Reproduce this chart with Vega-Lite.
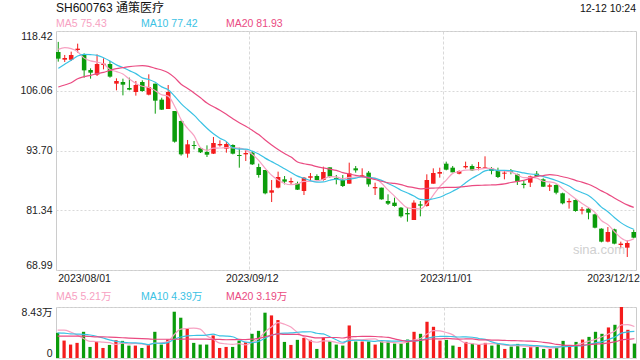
{
  "$schema": "https://vega.github.io/schema/vega-lite/v6.json",
  "padding": 0,
  "background": "white",
  "spacing": 0,
  "config": {
    "font": "Liberation Sans",
    "view": {"stroke": null},
    "axis": {"labelFont": "Liberation Sans, Noto Sans CJK SC", "labelFontSize": 10.5, "labelColor": "#222222", "ticks": false, "domain": false, "title": null, "gridColor": "#d9d9d9", "gridDash": [2, 2]},
    "text": {"font": "Liberation Sans, Noto Sans CJK SC"}
  },
  "resolve": {"scale": {"x": "independent", "y": "independent", "color": "independent"}},
  "datasets": {
    "k": [
      {"d":"2023/08/01","o":114.08,"h":116.17,"l":112.08,"c":112.70,"v":4.16,"m5":114.63,"m10":110.70,"m20":106.84,"vm5":4.60,"vm10":4.15,"vm20":3.60},
      {"d":"2023/08/02","o":112.49,"h":113.46,"l":112.01,"c":112.84,"v":2.88,"m5":114.97,"m10":111.53,"m20":107.25,"vm5":4.60,"vm10":4.10,"vm20":3.60},
      {"d":"2023/08/03","o":112.49,"h":114.15,"l":112.22,"c":113.46,"v":2.22,"m5":114.77,"m10":112.35,"m20":107.73,"vm5":4.30,"vm10":4.00,"vm20":3.60},
      {"d":"2023/08/04","o":114.49,"h":115.80,"l":113.94,"c":114.77,"v":2.50,"m5":114.15,"m10":113.25,"m20":108.56,"vm5":3.80,"vm10":3.95,"vm20":3.60},
      {"d":"2023/08/07","o":113.59,"h":113.80,"l":108.77,"c":110.28,"v":4.33,"m5":112.81,"m10":113.59,"m20":108.98,"vm5":3.22,"vm10":3.90,"vm20":3.60},
      {"d":"2023/08/08","o":110.35,"h":110.70,"l":108.56,"c":109.80,"v":1.83,"m5":112.23,"m10":113.53,"m20":109.25,"vm5":2.75,"vm10":3.80,"vm20":3.55},
      {"d":"2023/08/09","o":109.39,"h":113.59,"l":109.11,"c":111.60,"v":2.72,"m5":111.98,"m10":113.39,"m20":109.60,"vm5":2.72,"vm10":3.60,"vm20":3.50},
      {"d":"2023/08/10","o":111.39,"h":112.77,"l":110.49,"c":111.66,"v":1.66,"m5":111.62,"m10":112.90,"m20":109.87,"vm5":2.61,"vm10":3.30,"vm20":3.50},
      {"d":"2023/08/11","o":111.60,"h":112.22,"l":108.77,"c":108.98,"v":2.16,"m5":110.46,"m10":112.22,"m20":110.28,"vm5":2.54,"vm10":3.00,"vm20":3.45},
      {"d":"2023/08/14","o":107.53,"h":108.63,"l":106.15,"c":108.08,"v":2.94,"m5":110.02,"m10":111.42,"m20":110.63,"vm5":2.26,"vm10":2.74,"vm20":3.40},
      {"d":"2023/08/15","o":107.87,"h":108.56,"l":105.11,"c":107.32,"v":2.83,"m5":109.53,"m10":110.88,"m20":110.84,"vm5":2.46,"vm10":2.61,"vm20":3.35},
      {"d":"2023/08/16","o":106.63,"h":108.77,"l":106.15,"c":106.29,"v":2.05,"m5":108.47,"m10":110.22,"m20":111.04,"vm5":2.33,"vm10":2.52,"vm20":3.30},
      {"d":"2023/08/17","o":105.80,"h":108.08,"l":105.05,"c":107.25,"v":2.05,"m5":107.58,"m10":109.60,"m20":111.18,"vm5":2.41,"vm10":2.51,"vm20":3.25},
      {"d":"2023/08/18","o":107.87,"h":108.22,"l":105.87,"c":106.01,"v":1.66,"m5":106.99,"m10":108.73,"m20":111.25,"vm5":2.31,"vm10":2.42,"vm20":3.20},
      {"d":"2023/08/21","o":105.25,"h":109.46,"l":105.11,"c":106.84,"v":2.22,"m5":106.74,"m10":108.38,"m20":111.11,"vm5":2.16,"vm10":2.21,"vm20":3.15},
      {"d":"2023/08/22","o":107.53,"h":107.53,"l":101.32,"c":104.01,"v":4.33,"m5":106.08,"m10":107.80,"m20":110.70,"vm5":2.46,"vm10":2.46,"vm20":3.10},
      {"d":"2023/08/23","o":104.22,"h":104.63,"l":102.08,"c":102.15,"v":2.22,"m5":105.25,"m10":106.86,"m20":110.35,"vm5":2.50,"vm10":2.41,"vm20":3.10},
      {"d":"2023/08/24","o":102.29,"h":107.25,"l":102.29,"c":105.80,"v":3.05,"m5":104.96,"m10":106.27,"m20":109.80,"vm5":2.70,"vm10":2.55,"vm20":3.10},
      {"d":"2023/08/25","o":101.87,"h":101.87,"l":95.33,"c":95.53,"v":7.65,"m5":102.87,"m10":104.93,"m20":108.77,"vm5":3.89,"vm10":3.10,"vm20":3.10},
      {"d":"2023/08/28","o":99.81,"h":99.94,"l":92.64,"c":92.91,"v":6.66,"m5":100.08,"m10":103.41,"m20":107.41,"vm5":4.78,"vm10":3.47,"vm20":3.11},
      {"d":"2023/08/29","o":93.05,"h":95.88,"l":92.22,"c":94.98,"v":4.83,"m5":98.27,"m10":102.18,"m20":106.53,"vm5":4.88,"vm10":3.67,"vm20":3.14},
      {"d":"2023/08/30","o":94.84,"h":95.67,"l":93.95,"c":94.64,"v":2.50,"m5":96.77,"m10":101.01,"m20":105.62,"vm5":4.94,"vm10":3.72,"vm20":3.12},
      {"d":"2023/08/31","o":94.22,"h":94.43,"l":93.19,"c":93.33,"v":2.22,"m5":94.28,"m10":99.62,"m20":104.61,"vm5":4.77,"vm10":3.73,"vm20":3.12},
      {"d":"2023/09/01","o":93.39,"h":94.77,"l":92.36,"c":92.84,"v":2.22,"m5":93.74,"m10":98.30,"m20":103.52,"vm5":3.69,"vm10":3.79,"vm20":3.11},
      {"d":"2023/09/04","o":93.05,"h":96.50,"l":92.98,"c":95.26,"v":3.72,"m5":94.21,"m10":97.15,"m20":102.76,"vm5":3.10,"vm10":3.94,"vm20":3.08},
      {"d":"2023/09/05","o":94.77,"h":95.81,"l":94.50,"c":95.05,"v":1.66,"m5":94.22,"m10":96.25,"m20":102.03,"vm5":2.46,"vm10":3.67,"vm20":3.07},
      {"d":"2023/09/06","o":94.08,"h":95.53,"l":93.26,"c":95.05,"v":1.83,"m5":94.31,"m10":95.54,"m20":101.20,"vm5":2.33,"vm10":3.63,"vm20":3.02},
      {"d":"2023/09/07","o":94.84,"h":94.98,"l":92.91,"c":93.05,"v":1.83,"m5":94.25,"m10":94.26,"m20":100.27,"vm5":2.25,"vm10":3.51,"vm20":3.03},
      {"d":"2023/09/08","o":92.78,"h":94.29,"l":90.15,"c":92.57,"v":2.88,"m5":94.20,"m10":93.97,"m20":99.45,"vm5":2.38,"vm10":3.04,"vm20":3.07},
      {"d":"2023/09/11","o":92.91,"h":93.95,"l":91.53,"c":93.19,"v":2.61,"m5":93.78,"m10":94.00,"m20":98.70,"vm5":2.16,"vm10":2.63,"vm20":3.05},
      {"d":"2023/09/12","o":93.26,"h":93.60,"l":90.71,"c":90.84,"v":4.00,"m5":92.94,"m10":93.58,"m20":97.88,"vm5":2.63,"vm10":2.55,"vm20":3.11},
      {"d":"2023/09/13","o":90.29,"h":90.98,"l":88.09,"c":88.64,"v":4.49,"m5":91.66,"m10":92.98,"m20":97.00,"vm5":3.16,"vm10":2.75,"vm20":3.23},
      {"d":"2023/09/14","o":89.67,"h":89.67,"l":84.64,"c":84.85,"v":7.49,"m5":90.02,"m10":92.13,"m20":95.88,"vm5":4.29,"vm10":3.27,"vm20":3.50},
      {"d":"2023/09/15","o":84.98,"h":87.60,"l":83.05,"c":85.47,"v":7.04,"m5":88.60,"m10":91.40,"m20":94.85,"vm5":5.13,"vm10":3.76,"vm20":3.77},
      {"d":"2023/09/18","o":86.02,"h":89.33,"l":85.88,"c":88.22,"v":6.27,"m5":87.60,"m10":90.69,"m20":93.92,"vm5":5.86,"vm10":4.01,"vm20":3.98},
      {"d":"2023/09/19","o":87.74,"h":88.43,"l":86.70,"c":87.26,"v":2.66,"m5":86.89,"m10":89.91,"m20":93.08,"vm5":5.59,"vm10":4.11,"vm20":3.89},
      {"d":"2023/09/20","o":87.12,"h":88.09,"l":86.70,"c":87.40,"v":2.16,"m5":86.64,"m10":89.15,"m20":92.34,"vm5":5.12,"vm10":4.14,"vm20":3.89},
      {"d":"2023/09/21","o":86.91,"h":87.26,"l":85.54,"c":85.60,"v":3.00,"m5":86.79,"m10":88.40,"m20":91.33,"vm5":4.23,"vm10":4.26,"vm20":3.89},
      {"d":"2023/09/22","o":85.33,"h":88.22,"l":84.50,"c":88.09,"v":3.33,"m5":87.31,"m10":87.96,"m20":90.96,"vm5":3.48,"vm10":4.31,"vm20":3.67},
      {"d":"2023/09/25","o":88.09,"h":89.05,"l":87.60,"c":88.36,"v":3.00,"m5":87.34,"m10":87.47,"m20":90.73,"vm5":2.83,"vm10":4.34,"vm20":3.49},
      {"d":"2023/09/26","o":88.43,"h":88.78,"l":87.53,"c":87.60,"v":1.50,"m5":87.41,"m10":87.15,"m20":90.37,"vm5":2.60,"vm10":4.09,"vm20":3.32},
      {"d":"2023/09/27","o":87.60,"h":90.36,"l":87.47,"c":89.26,"v":3.33,"m5":87.78,"m10":87.21,"m20":90.10,"vm5":2.83,"vm10":3.98,"vm20":3.36},
      {"d":"2023/09/28","o":90.22,"h":90.22,"l":88.09,"c":88.29,"v":2.77,"m5":88.32,"m10":87.56,"m20":89.84,"vm5":2.79,"vm10":3.51,"vm20":3.39},
      {"d":"2023/10/09","o":88.02,"h":88.64,"l":86.70,"c":87.74,"v":2.22,"m5":88.25,"m10":87.78,"m20":89.59,"vm5":2.56,"vm10":3.02,"vm20":3.39},
      {"d":"2023/10/10","o":87.60,"h":88.64,"l":86.15,"c":86.36,"v":2.05,"m5":87.85,"m10":87.60,"m20":89.14,"vm5":2.37,"vm10":2.60,"vm20":3.31},
      {"d":"2023/10/11","o":86.84,"h":91.19,"l":86.84,"c":88.98,"v":5.38,"m5":88.13,"m10":87.77,"m20":88.84,"vm5":3.15,"vm10":2.87,"vm20":3.49},
      {"d":"2023/10/12","o":90.02,"h":90.50,"l":89.12,"c":89.60,"v":2.72,"m5":88.19,"m10":87.99,"m20":88.57,"vm5":3.03,"vm10":2.93,"vm20":3.54},
      {"d":"2023/10/13","o":88.29,"h":90.02,"l":88.09,"c":88.57,"v":2.72,"m5":88.25,"m10":88.29,"m20":88.34,"vm5":3.02,"vm10":2.90,"vm20":3.58},
      {"d":"2023/10/16","o":89.12,"h":89.46,"l":86.22,"c":86.70,"v":2.72,"m5":88.04,"m10":88.15,"m20":88.05,"vm5":3.12,"vm10":2.84,"vm20":3.57},
      {"d":"2023/10/17","o":85.88,"h":87.05,"l":84.50,"c":86.15,"v":2.22,"m5":88.00,"m10":87.93,"m20":87.70,"vm5":3.15,"vm10":2.76,"vm20":3.55},
      {"d":"2023/10/18","o":86.02,"h":86.02,"l":83.54,"c":83.60,"v":2.72,"m5":86.92,"m10":87.53,"m20":87.34,"vm5":2.62,"vm10":2.89,"vm20":3.49},
      {"d":"2023/10/19","o":83.26,"h":84.64,"l":82.43,"c":82.71,"v":2.72,"m5":85.55,"m10":86.87,"m20":87.04,"vm5":2.62,"vm10":2.82,"vm20":3.40},
      {"d":"2023/10/20","o":82.92,"h":83.95,"l":82.09,"c":82.23,"v":2.38,"m5":84.28,"m10":86.26,"m20":86.91,"vm5":2.55,"vm10":2.79,"vm20":3.15},
      {"d":"2023/10/23","o":81.88,"h":82.02,"l":79.81,"c":80.09,"v":2.38,"m5":82.96,"m10":85.50,"m20":86.64,"vm5":2.48,"vm10":2.80,"vm20":2.91},
      {"d":"2023/10/24","o":80.78,"h":81.88,"l":78.99,"c":80.50,"v":3.05,"m5":81.83,"m10":84.91,"m20":86.25,"vm5":2.65,"vm10":2.90,"vm20":2.75},
      {"d":"2023/10/25","o":79.33,"h":83.40,"l":79.33,"c":82.92,"v":4.33,"m5":81.69,"m10":84.31,"m20":86.04,"vm5":2.97,"vm10":2.80,"vm20":2.84},
      {"d":"2023/10/26","o":82.57,"h":83.26,"l":80.09,"c":82.30,"v":4.00,"m5":81.61,"m10":83.58,"m20":85.78,"vm5":3.23,"vm10":2.92,"vm20":2.93},
      {"d":"2023/10/27","o":82.23,"h":88.78,"l":82.09,"c":87.60,"v":5.99,"m5":82.68,"m10":83.48,"m20":85.88,"vm5":3.95,"vm10":3.25,"vm20":3.08},
      {"d":"2023/10/30","o":86.84,"h":90.02,"l":86.84,"c":89.05,"v":5.16,"m5":84.47,"m10":83.72,"m20":85.93,"vm5":4.51,"vm10":3.50,"vm20":3.17},
      {"d":"2023/10/31","o":88.91,"h":90.15,"l":88.09,"c":89.26,"v":2.88,"m5":86.23,"m10":84.03,"m20":85.98,"vm5":4.47,"vm10":3.56,"vm20":3.16},
      {"d":"2023/11/01","o":90.98,"h":91.40,"l":89.60,"c":89.74,"v":3.00,"m5":87.59,"m10":84.64,"m20":86.08,"vm5":4.21,"vm10":3.59,"vm20":3.24},
      {"d":"2023/11/02","o":90.15,"h":90.50,"l":89.19,"c":89.19,"v":2.05,"m5":88.97,"m10":85.29,"m20":86.08,"vm5":3.82,"vm10":3.52,"vm20":3.17},
      {"d":"2023/11/03","o":88.91,"h":89.60,"l":88.78,"c":89.46,"v":1.83,"m5":89.34,"m10":86.01,"m20":86.14,"vm5":2.98,"vm10":3.47,"vm20":3.13},
      {"d":"2023/11/06","o":90.22,"h":91.40,"l":89.95,"c":90.50,"v":2.66,"m5":89.63,"m10":87.05,"m20":86.28,"vm5":2.48,"vm10":3.50,"vm20":3.15},
      {"d":"2023/11/07","o":90.50,"h":90.84,"l":89.46,"c":89.60,"v":2.38,"m5":89.70,"m10":87.96,"m20":86.44,"vm5":2.38,"vm10":3.43,"vm20":3.16},
      {"d":"2023/11/08","o":90.08,"h":91.33,"l":89.60,"c":90.29,"v":2.22,"m5":89.81,"m10":88.70,"m20":86.50,"vm5":2.23,"vm10":3.22,"vm20":3.01},
      {"d":"2023/11/09","o":90.02,"h":92.50,"l":90.02,"c":90.22,"v":2.50,"m5":90.01,"m10":89.49,"m20":86.53,"vm5":2.32,"vm10":3.07,"vm20":3.00},
      {"d":"2023/11/10","o":90.02,"h":90.29,"l":88.78,"c":89.46,"v":2.05,"m5":90.01,"m10":89.68,"m20":86.58,"vm5":2.36,"vm10":2.67,"vm20":2.96},
      {"d":"2023/11/13","o":89.46,"h":90.15,"l":88.02,"c":88.22,"v":2.38,"m5":89.56,"m10":89.59,"m20":86.65,"vm5":2.31,"vm10":2.40,"vm20":2.95},
      {"d":"2023/11/14","o":88.91,"h":89.46,"l":87.74,"c":89.12,"v":1.50,"m5":89.46,"m10":89.58,"m20":86.80,"vm5":2.13,"vm10":2.26,"vm20":2.91},
      {"d":"2023/11/15","o":89.60,"h":89.88,"l":88.78,"c":89.33,"v":1.89,"m5":89.27,"m10":89.54,"m20":87.09,"vm5":2.06,"vm10":2.15,"vm20":2.87},
      {"d":"2023/11/16","o":88.78,"h":88.91,"l":86.57,"c":87.26,"v":2.33,"m5":88.68,"m10":89.35,"m20":87.32,"vm5":2.03,"vm10":2.17,"vm20":2.85},
      {"d":"2023/11/17","o":86.84,"h":87.40,"l":85.88,"c":86.57,"v":1.66,"m5":88.10,"m10":89.06,"m20":87.53,"vm5":1.95,"vm10":2.16,"vm20":2.81},
      {"d":"2023/11/20","o":87.05,"h":88.50,"l":86.15,"c":88.36,"v":1.89,"m5":88.13,"m10":88.84,"m20":87.95,"vm5":1.85,"vm10":2.08,"vm20":2.79},
      {"d":"2023/11/21","o":88.91,"h":89.46,"l":88.29,"c":88.36,"v":1.83,"m5":87.98,"m10":88.72,"m20":88.34,"vm5":1.92,"vm10":2.03,"vm20":2.73},
      {"d":"2023/11/22","o":87.74,"h":87.95,"l":86.15,"c":86.22,"v":1.50,"m5":87.35,"m10":88.31,"m20":88.51,"vm5":1.84,"vm10":1.95,"vm20":2.59},
      {"d":"2023/11/23","o":86.22,"h":86.84,"l":85.33,"c":86.50,"v":1.50,"m5":87.20,"m10":87.94,"m20":88.72,"vm5":1.68,"vm10":1.85,"vm20":2.46},
      {"d":"2023/11/24","o":86.57,"h":86.70,"l":84.64,"c":84.98,"v":1.83,"m5":86.88,"m10":87.49,"m20":88.58,"vm5":1.71,"vm10":1.83,"vm20":2.25},
      {"d":"2023/11/27","o":84.85,"h":84.98,"l":82.57,"c":82.78,"v":2.83,"m5":85.77,"m10":86.95,"m20":88.27,"vm5":1.90,"vm10":1.88,"vm20":2.14},
      {"d":"2023/11/28","o":82.98,"h":83.81,"l":81.68,"c":83.26,"v":1.89,"m5":84.75,"m10":86.36,"m20":87.97,"vm5":1.91,"vm10":1.92,"vm20":2.09},
      {"d":"2023/11/29","o":83.47,"h":83.60,"l":81.05,"c":81.19,"v":2.66,"m5":83.74,"m10":85.55,"m20":87.54,"vm5":2.14,"vm10":1.99,"vm20":2.07},
      {"d":"2023/11/30","o":81.26,"h":82.02,"l":80.50,"c":81.54,"v":3.05,"m5":82.75,"m10":84.98,"m20":87.16,"vm5":2.45,"vm10":2.06,"vm20":2.12},
      {"d":"2023/12/01","o":81.68,"h":81.88,"l":79.47,"c":80.85,"v":3.49,"m5":81.92,"m10":84.40,"m20":86.73,"vm5":2.78,"vm10":2.25,"vm20":2.20},
      {"d":"2023/12/04","o":80.50,"h":80.64,"l":77.61,"c":77.74,"v":4.33,"m5":80.92,"m10":83.34,"m20":86.09,"vm5":3.08,"vm10":2.49,"vm20":2.29},
      {"d":"2023/12/05","o":77.54,"h":77.61,"l":74.71,"c":74.85,"v":4.00,"m5":79.23,"m10":81.99,"m20":85.36,"vm5":3.51,"vm10":2.71,"vm20":2.37},
      {"d":"2023/12/06","o":74.85,"h":77.88,"l":74.71,"c":76.85,"v":5.05,"m5":78.37,"m10":81.05,"m20":84.68,"vm5":3.98,"vm10":3.06,"vm20":2.51},
      {"d":"2023/12/07","o":77.40,"h":77.54,"l":74.30,"c":74.44,"v":5.49,"m5":76.95,"m10":79.85,"m20":83.89,"vm5":4.47,"vm10":3.46,"vm20":2.66},
      {"d":"2023/12/08","o":74.16,"h":74.85,"l":73.47,"c":74.44,"v":8.43,"m5":75.66,"m10":78.79,"m20":83.14,"vm5":5.46,"vm10":4.12,"vm20":2.98},
      {"d":"2023/12/11","o":73.61,"h":75.13,"l":71.68,"c":74.57,"v":4.66,"m5":75.03,"m10":77.97,"m20":82.46,"vm5":5.53,"vm10":4.31,"vm20":3.09},
      {"d":"2023/12/12","o":76.85,"h":77.33,"l":75.54,"c":75.68,"v":2.38,"m5":75.43,"m10":77.42,"m20":81.93,"vm5":5.21,"vm10":4.39,"vm20":3.19}
    ]
  },
  "vconcat": [
    {
      "width": 580, "height": 15,
      "data": {"values": [{"slot": "L", "t": "SH600763 通策医疗"}, {"slot": "R", "t": "12-12 10:24"}]},
      "layer": [
        {
          "transform": [{"filter": "datum.slot == 'L'"}],
          "mark": {"type": "text", "align": "left", "baseline": "middle", "fontSize": 12, "color": "#111111"},
          "encoding": {
            "x": {"field": "slot", "type": "nominal", "bandPosition": 0, "scale": {"type": "band", "domain": ["L", "R"], "paddingInner": 0, "paddingOuter": 0}, "axis": null},
            "text": {"field": "t"}
          }
        },
        {
          "transform": [{"filter": "datum.slot == 'R'"}],
          "mark": {"type": "text", "align": "right", "baseline": "middle", "fontSize": 10.5, "color": "#111111", "dy": 1},
          "encoding": {
            "x": {"field": "slot", "type": "nominal", "bandPosition": 1, "scale": {"type": "band", "domain": ["L", "R"], "paddingInner": 0, "paddingOuter": 0}, "axis": null},
            "text": {"field": "t"}
          }
        }
      ]
    },
    {
      "width": 255, "height": 15,
      "data": {"values": [{"s": "MA5", "t": "MA5 75.43"}, {"s": "MA10", "t": "MA10 77.42"}, {"s": "MA20", "t": "MA20 81.93"}]},
      "mark": {"type": "text", "align": "left", "baseline": "middle", "fontSize": 10.5, "dy": 1.5},
      "encoding": {
        "x": {"field": "s", "type": "nominal", "bandPosition": 0, "scale": {"type": "band", "domain": ["MA5", "MA10", "MA20"], "paddingInner": 0, "paddingOuter": 0}, "axis": null},
        "text": {"field": "t"},
        "color": {"field": "s", "type": "nominal", "scale": {"domain": ["MA5", "MA10", "MA20"], "range": ["#f7a1c2", "#3bc2e4", "#ea4b82"]}, "legend": null}
      }
    },
    {
      "width": 580, "height": 239,
      "view": {"stroke": "#cccccc"},
      "data": {"name": "k"},
      "encoding": {
        "x": {
          "field": "d", "type": "ordinal",
          "scale": {"paddingInner": 0.3, "paddingOuter": 0},
          "axis": {
            "values": ["2023/08/01", "2023/09/12", "2023/11/01", "2023/12/12"],
            "bandPosition": 0, "labelAngle": 0, "labelFlush": 10, "labelPadding": 3,
            "labelOffset": {"condition": {"test": "datum.value == '2023/12/12'", "value": 6}, "value": 0},
            "grid": true, "gridDash": [3, 2],
            "gridOpacity": {"condition": {"test": "datum.value == '2023/12/12' || datum.value == '2023/08/01'", "value": 0}, "value": 1},
            "minExtent": 15, "maxExtent": 15
          }
        }
      },
      "layer": [
        {
          "mark": {"type": "rule", "strokeWidth": 1},
          "encoding": {
            "y": {"field": "l", "type": "quantitative", "scale": {"domain": [68.99, 118.42], "nice": false, "zero": false},
              "axis": {"values": [68.99, 81.34, 93.70, 106.06, 118.42], "format": ".2f", "labelFlush": true, "labelPadding": 4, "grid": true, "gridDash": [2, 2], "minExtent": 55, "maxExtent": 55}},
            "y2": {"field": "h"},
            "color": {"condition": {"test": "datum.c >= datum.o", "value": "#f41c1c"}, "value": "#0b9c0b"}
          }
        },
        {
          "mark": {"type": "bar"},
          "encoding": {
            "y": {"field": "o", "type": "quantitative"},
            "y2": {"field": "c"},
            "color": {"condition": {"test": "datum.c >= datum.o", "value": "#f41c1c"}, "value": "#0b9c0b"}
          }
        },
        {"mark": {"type": "line", "color": "#f7a1c2", "strokeWidth": 1.2, "interpolate": "monotone"}, "encoding": {"y": {"field": "m5", "type": "quantitative"}}},
        {"mark": {"type": "line", "color": "#3bc2e4", "strokeWidth": 1.2, "interpolate": "monotone"}, "encoding": {"y": {"field": "m10", "type": "quantitative"}}},
        {"mark": {"type": "line", "color": "#ea4b82", "strokeWidth": 1.2, "interpolate": "monotone"}, "encoding": {"y": {"field": "m20", "type": "quantitative"}}},
        {
          "data": {"values": [{"d": "2023/12/11", "p": 73.1, "t": "sina.com"}]},
          "mark": {"type": "text", "align": "right", "baseline": "middle", "fontSize": 13, "color": "#d0d0d0"},
          "encoding": {
            "x": {"field": "d", "type": "ordinal", "bandPosition": 0},
            "y": {"field": "p", "type": "quantitative"},
            "text": {"field": "t"}
          }
        }
      ]
    },
    {
      "width": 255, "height": 20,
      "data": {"values": [{"s": "MA5", "t": "MA5 5.21万"}, {"s": "MA10", "t": "MA10 4.39万"}, {"s": "MA20", "t": "MA20 3.19万"}]},
      "mark": {"type": "text", "align": "left", "baseline": "middle", "fontSize": 10.5, "dy": 1},
      "encoding": {
        "x": {"field": "s", "type": "nominal", "bandPosition": 0, "scale": {"type": "band", "domain": ["MA5", "MA10", "MA20"], "paddingInner": 0, "paddingOuter": 0}, "axis": null},
        "text": {"field": "t"},
        "color": {"field": "s", "type": "nominal", "scale": {"domain": ["MA5", "MA10", "MA20"], "range": ["#f7a1c2", "#3bc2e4", "#ea4b82"]}, "legend": null}
      }
    },
    {
      "width": 580, "height": 51,
      "view": {"stroke": "#cccccc"},
      "data": {"name": "k"},
      "encoding": {
        "x": {
          "field": "d", "type": "ordinal",
          "scale": {"paddingInner": 0.5, "paddingOuter": 0},
          "axis": {"values": ["2023/09/12", "2023/11/01"], "bandPosition": 0, "labels": false, "grid": true, "gridDash": [3, 2], "minExtent": 0, "maxExtent": 0}
        }
      },
      "layer": [
        {
          "mark": {"type": "bar"},
          "encoding": {
            "y": {"field": "v", "type": "quantitative", "scale": {"domain": [0, 8.43], "nice": false},
              "axis": {"values": [0, 8.43], "labelExpr": "datum.value == 0 ? '0' : format(datum.value, '.2f') + '万'", "labelFlush": true, "labelPadding": 4, "grid": true, "gridDash": [2, 2], "minExtent": 55, "maxExtent": 55}},
            "color": {"condition": {"test": "datum.c >= datum.o", "value": "#f41c1c"}, "value": "#0b9c0b"}
          }
        },
        {"mark": {"type": "line", "color": "#f7a1c2", "strokeWidth": 1.2, "interpolate": "monotone"}, "encoding": {"y": {"field": "vm5", "type": "quantitative"}}},
        {"mark": {"type": "line", "color": "#3bc2e4", "strokeWidth": 1.2, "interpolate": "monotone"}, "encoding": {"y": {"field": "vm10", "type": "quantitative"}}},
        {"mark": {"type": "line", "color": "#ea4b82", "strokeWidth": 1.2, "interpolate": "monotone"}, "encoding": {"y": {"field": "vm20", "type": "quantitative"}}}
      ]
    }
  ]
}
